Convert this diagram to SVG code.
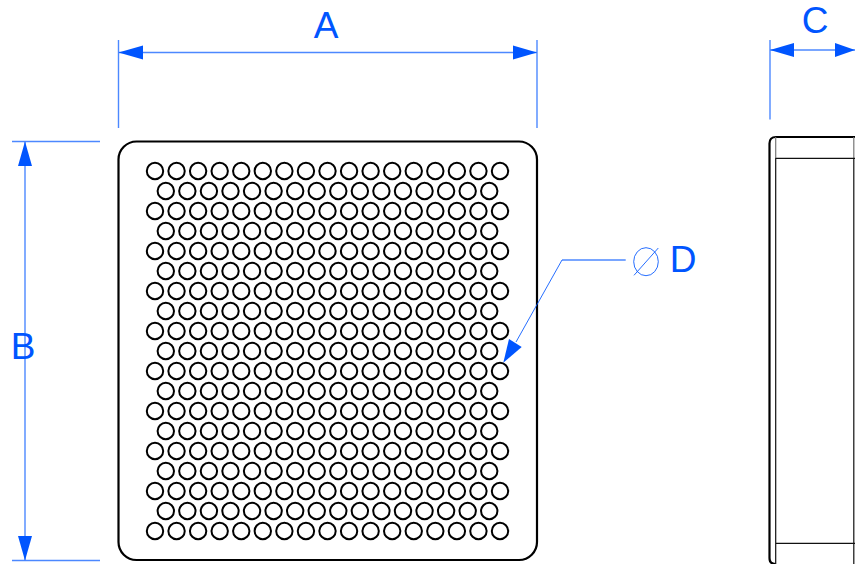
<svg xmlns="http://www.w3.org/2000/svg" width="855" height="564" viewBox="0 0 855 564">
<style>
.o{fill:none;stroke:#000;stroke-width:2.2}
.h{fill:none;stroke:#000;stroke-width:2}
.t{fill:none;stroke:#111;stroke-width:1.2}
.g{fill:none;stroke:#777;stroke-width:1.2}
.d{fill:none;stroke:#0055ff;stroke-width:1.4;stroke-opacity:.7}
.f{fill:none;stroke:#0055ff;stroke-width:1;stroke-opacity:.85}
.a{fill:#0055ff;stroke:none}
.l{font-family:"Liberation Sans",Arial,sans-serif;font-size:37px;fill:#0055ff;text-anchor:middle}
</style>
<defs>
<circle id="c" r="8.2" class="h"/>
<g id="r17"><use href="#c" x="155"/><use href="#c" x="176.56"/><use href="#c" x="198.12"/><use href="#c" x="219.69"/><use href="#c" x="241.25"/><use href="#c" x="262.81"/><use href="#c" x="284.38"/><use href="#c" x="305.94"/><use href="#c" x="327.5"/><use href="#c" x="349.06"/><use href="#c" x="370.62"/><use href="#c" x="392.19"/><use href="#c" x="413.75"/><use href="#c" x="435.31"/><use href="#c" x="456.88"/><use href="#c" x="478.44"/><use href="#c" x="500"/></g>
<g id="r16"><use href="#c" x="165.8"/><use href="#c" x="187.36"/><use href="#c" x="208.92"/><use href="#c" x="230.49"/><use href="#c" x="252.05"/><use href="#c" x="273.61"/><use href="#c" x="295.18"/><use href="#c" x="316.74"/><use href="#c" x="338.3"/><use href="#c" x="359.86"/><use href="#c" x="381.42"/><use href="#c" x="402.99"/><use href="#c" x="424.55"/><use href="#c" x="446.11"/><use href="#c" x="467.68"/><use href="#c" x="489.24"/></g>
</defs>
<rect width="855" height="564" fill="#fff"/>
<g id="front-view">
<rect x="118.500" y="141.500" width="418.500" height="418.500" rx="18" class="o"/>
<g id="holes">
<use href="#r17" y="171"/><use href="#r16" y="191"/><use href="#r17" y="211"/><use href="#r16" y="231"/><use href="#r17" y="251"/><use href="#r16" y="271"/><use href="#r17" y="291"/><use href="#r16" y="311"/><use href="#r17" y="331"/><use href="#r16" y="351"/><use href="#r17" y="371"/><use href="#r16" y="391"/><use href="#r17" y="411"/><use href="#r16" y="431"/><use href="#r17" y="451"/><use href="#r16" y="471"/><use href="#r17" y="491"/><use href="#r16" y="511"/><use href="#r17" y="531"/>
</g>
</g>
<g id="side-view">
<path d="M855 137H776Q769.500 137 769.500 143.500V558Q769.500 564 775.500 564" class="o"/>
<path d="M775.700 137V158M853.800 137V158" class="g"/>
<path d="M775.700 158V564M853.800 158V564M775.700 158.300H855M775.700 543.300H855" class="t"/>
</g>
<g id="connectors">
<path d="M118.500 40V128M537 40V128M118.500 52.500H537" class="d"/>
<path d="M118.500 52.500L143 45.500V59.500Z" class="a"/><path d="M537 52.500L513 45.500V59.500Z" class="a"/>
<path d="M12 141.500H100M12 560.500H100M25 141.500V560.500" class="d"/>
<path d="M25 141.500L18 166H32Z" class="a"/><path d="M25 560.500L18 536H32Z" class="a"/>
<path d="M770 40V119.500M770 50H855" class="d"/>
<path d="M770 50L794 43V57Z" class="a"/><path d="M855 50L835 43V57Z" class="a"/>
<path d="M625.700 260H562" class="d"/><path d="M562 260L516 342" class="f"/>
<path d="M503.300 362.700L509 339L521.700 347Z" class="a"/>
</g>
<g id="labels">
<text x="326" y="38" class="l">A</text>
<text x="23" y="359" class="l">B</text>
<text x="815" y="33" class="l">C</text>
<text x="683" y="272" class="l">D</text>
<ellipse cx="646" cy="261.700" rx="12.300" ry="14" class="f"/>
<path d="M634 275.300L658.300 248" class="f"/>
</g>
</svg>
